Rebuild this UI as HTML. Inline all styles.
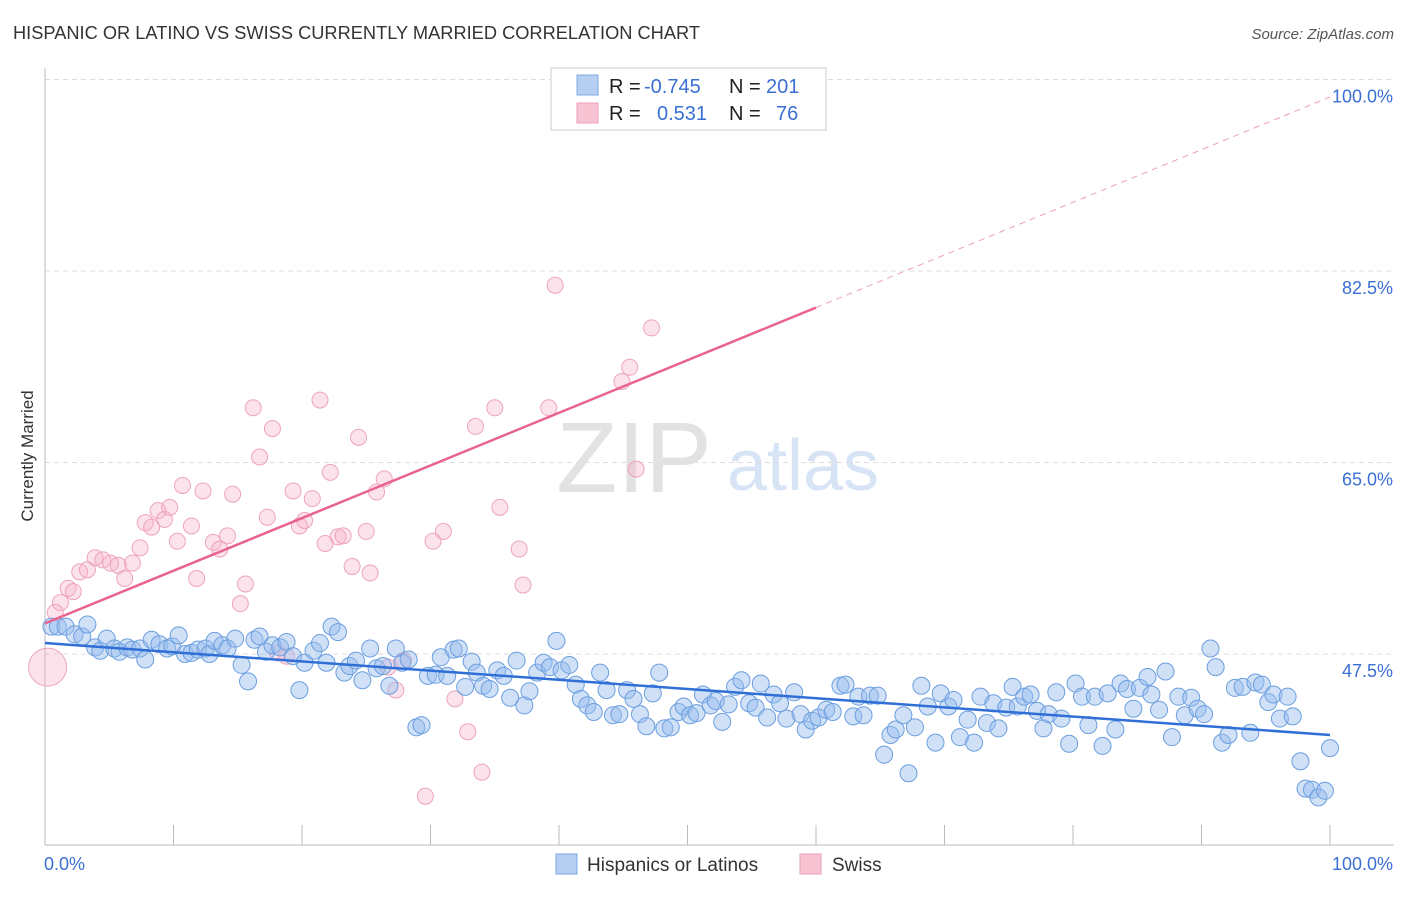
<!DOCTYPE html>
<html><head><meta charset="utf-8"><style>
body{margin:0;background:#fff;font-family:"Liberation Sans",sans-serif}
svg text{font-family:"Liberation Sans",sans-serif}
</style></head><body>
<svg id="chart" width="1406" height="892" viewBox="0 0 1406 892">
<text x="13" y="39" font-size="18" fill="#333" textLength="687" lengthAdjust="spacingAndGlyphs">HISPANIC OR LATINO VS SWISS CURRENTLY MARRIED CORRELATION CHART</text>
<text x="1394" y="39" font-size="15" fill="#555" font-style="italic" text-anchor="end">Source: ZipAtlas.com</text>
<text x="33" y="456" font-size="17" fill="#333" text-anchor="middle" transform="rotate(-90 33 456)">Currently Married</text>
<g><text x="634" y="492" font-size="100" fill="#e2e2e2" text-anchor="middle" font-family="Liberation Serif,serif">ZIP</text><text x="803" y="490" font-size="72" fill="#d6e4f5" text-anchor="middle">atlas</text></g>
<g id="grid"></g><g id="axes"></g><g id="trends"></g><g id="pts"></g>
<g>
<rect x="551" y="68" width="275" height="62" fill="#fff" stroke="#ccc"/>
<rect x="577" y="75" width="21" height="20" fill="#b5cff2" stroke="#7ea8e0"/>
<rect x="577" y="103" width="21" height="20" fill="#f8c3d3" stroke="#eba0b8"/>
<text y="93" font-size="20" fill="#222"><tspan x="609">R =</tspan><tspan x="644" fill="#3b6fd4">-0.745</tspan><tspan x="729">N =</tspan><tspan x="766" fill="#3b6fd4">201</tspan></text>
<text y="120" font-size="20" fill="#222"><tspan x="609">R =</tspan><tspan fill="#3b6fd4" x="657">0.531</tspan><tspan x="729">N =</tspan><tspan fill="#3b6fd4" x="776">76</tspan></text>
</g>
<g>
<rect x="556" y="854" width="21" height="20" fill="#b5cff2" stroke="#7ea8e0"/>
<text x="587" y="871" font-size="19" fill="#333">Hispanics or Latinos</text>
<rect x="800" y="854" width="21" height="20" fill="#f8c3d3" stroke="#eba0b8"/>
<text x="832" y="871" font-size="19" fill="#333">Swiss</text>
</g>
</svg>
<script>
const yTicks=[47.5,65,82.5,100];
const yTickLabels=["47.5%","65.0%","82.5%","100.0%"];
const xTickLabels=["0.0%","100.0%"];
const blueX=[0.5,1.0,1.6,2.3,2.9,3.3,3.9,4.3,4.8,5.4,5.8,6.4,6.8,7.4,7.8,8.3,8.9,9.5,9.9,10.4,10.9,11.4,11.9,12.5,12.8,13.2,13.8,14.2,14.8,15.3,15.8,16.3,16.7,17.2,17.7,18.3,18.8,19.3,19.8,20.2,20.9,21.4,21.9,22.3,22.8,23.3,23.7,24.2,24.7,25.3,25.8,26.3,26.8,27.3,27.8,28.3,28.9,29.3,29.8,30.4,30.8,31.3,31.8,32.2,32.7,33.2,33.6,34.1,34.6,35.2,35.7,36.2,36.7,37.3,37.7,38.3,38.8,39.3,39.8,40.2,40.8,41.3,41.7,42.2,42.7,43.2,43.7,44.2,44.7,45.3,45.8,46.3,46.8,47.3,47.8,48.2,48.7,49.3,49.7,50.2,50.7,51.2,51.8,52.2,52.7,53.2,53.7,54.2,54.8,55.3,55.7,56.2,56.7,57.2,57.7,58.3,58.8,59.2,59.7,60.2,60.8,61.3,61.9,62.3,62.9,63.3,63.7,64.2,64.8,65.3,65.8,66.2,66.8,67.2,67.7,68.2,68.7,69.3,69.7,70.3,70.7,71.2,71.8,72.3,72.8,73.3,73.8,74.2,74.8,75.3,75.7,76.2,76.7,77.2,77.7,78.1,78.7,79.1,79.7,80.2,80.7,81.2,81.7,82.3,82.7,83.3,83.7,84.2,84.7,85.2,85.8,86.1,86.7,87.2,87.7,88.2,88.7,89.2,89.7,90.2,90.7,91.1,91.6,92.1,92.6,93.2,93.8,94.2,94.7,95.2,95.6,96.1,96.7,97.1,97.7,98.1,98.6,99.1,99.6,100.0];
const blueY=[50.0,50.0,50.0,49.3,49.1,50.2,48.1,47.8,48.9,48.0,47.7,48.1,47.9,48.0,47.0,48.8,48.4,48.0,48.2,49.2,47.5,47.6,47.9,48.0,47.5,48.7,48.3,48.0,48.9,46.5,45.0,48.8,49.1,47.7,48.3,48.1,48.6,47.3,44.2,46.7,47.8,48.5,46.7,50.0,49.5,45.8,46.4,46.9,45.1,48.0,46.2,46.4,44.6,48.0,46.7,47.0,40.8,41.0,45.5,45.6,47.2,45.5,47.9,48.0,44.5,46.8,45.8,44.6,44.3,46.0,45.5,43.5,46.9,42.8,44.1,45.8,46.7,46.3,48.7,46.0,46.5,44.7,43.4,42.8,42.2,45.8,44.2,41.9,42.0,44.2,43.4,42.0,40.9,43.9,45.8,40.7,40.8,42.2,42.7,41.9,42.1,43.8,42.8,43.2,41.3,42.9,44.5,45.1,43.0,42.6,44.8,41.7,43.8,43.0,41.6,44.0,42.0,40.6,41.4,41.7,42.4,42.2,44.6,44.7,41.8,43.6,41.9,43.7,43.7,38.3,40.1,40.6,41.9,36.6,40.8,44.6,42.7,39.4,43.9,42.7,43.3,39.9,41.5,39.4,43.6,41.2,43.0,40.7,42.6,44.5,42.7,43.6,43.8,42.3,40.7,42.0,44.0,41.6,39.3,44.8,43.6,41.0,43.6,39.1,43.9,40.6,44.8,44.3,42.5,44.4,45.4,43.8,42.4,45.9,39.9,43.6,41.9,43.5,42.5,42.0,48.0,46.3,39.4,40.1,44.4,44.5,40.3,44.9,44.7,43.1,43.8,41.6,43.6,41.8,37.7,35.2,35.1,34.4,35.0,38.9];
const pinkX=[0.8,1.2,1.8,2.2,2.7,3.3,3.9,4.5,5.1,5.7,6.2,6.8,7.4,7.8,8.3,8.8,9.3,9.7,10.3,10.7,11.4,11.8,12.3,13.1,13.6,14.2,14.6,15.2,15.6,16.2,16.7,17.3,17.7,18.1,18.8,19.3,19.8,20.2,20.8,21.4,21.8,22.2,22.8,23.2,23.9,24.4,25.0,25.3,25.8,26.4,26.7,27.3,27.9,29.6,30.2,31.0,31.9,32.9,33.5,34.0,35.0,35.4,36.9,37.2,39.2,39.7,43.3,44.9,45.5,46.0,47.2,54.5];
const pinkY=[51.3,52.2,53.5,53.2,55.0,55.2,56.3,56.1,55.8,55.6,54.4,55.8,57.2,59.5,59.1,60.6,59.8,60.9,57.8,62.9,59.2,54.4,62.4,57.7,57.1,58.3,62.1,52.1,53.9,70.0,65.5,60.0,68.1,47.6,47.3,62.4,59.2,59.7,61.7,70.7,57.6,64.1,58.2,58.3,55.5,67.3,58.7,54.9,62.3,63.5,46.3,44.2,46.9,34.5,57.8,58.7,43.4,40.4,68.3,36.7,70.0,60.9,57.1,53.8,70.0,81.2,99.8,72.4,73.7,64.4,77.3,99.8];
const bigPinkX=[0.2], bigPinkY=[46.3];
const trendBlue=[48.5,40.1];
const trendPink=[50.3,98.4];
const pinkSolidEnd=60;

const L=45,R=1330,T=80,B=845;
const sx=v=>L+(v/100)*(R-L);
const sy=v=>654-(v-47.5)*(191.5/17.5);
const NS="http://www.w3.org/2000/svg";
function mk(tag,attrs,parent){const e=document.createElementNS(NS,tag);for(const k in attrs)e.setAttribute(k,attrs[k]);parent.appendChild(e);return e;}
const grid=document.getElementById('grid'),axes=document.getElementById('axes'),trends=document.getElementById('trends'),pts=document.getElementById('pts');
yTicks.forEach((t,i)=>{
  const l=mk('line',{x1:L,x2:1394,y1:sy(t),y2:sy(t),stroke:'#ddd','stroke-dasharray':'5,4'},grid);
  
  
  const tx=mk('text',{x:1393,y:sy(t)+23,'font-size':18,fill:'#3b6fd4','text-anchor':'end'},axes);
  tx.textContent=yTickLabels[i];
  
  
});
const ax=mk('line',{x1:L,x2:1394,y1:B,y2:B,stroke:'#bbb'},axes);


const ay=mk('line',{x1:L,x2:L,y1:68,y2:B,stroke:'#bbb'},axes);


for(let i=0;i<=10;i++){
  const tk=mk('line',{x1:sx(i*10),x2:sx(i*10),y1:B,y2:B-20,stroke:'#bbb'},axes);
  
  
}
[[0,'start',44],[100,'end',1393]].forEach((d,i)=>{
  const tx=mk('text',{x:d[2],y:870,'font-size':18,fill:'#3b6fd4','text-anchor':d[1]},axes);
  tx.textContent=xTickLabels[i];
  
  
});
pinkX.forEach((x,i)=>{
  const c=mk('circle',{cx:sx(x),cy:sy(pinkY[i]),r:8,fill:'rgba(246,175,198,0.35)',stroke:'#eea3bb','stroke-width':1},pts);
  
  
});
bigPinkX.forEach((x,i)=>{
  const c=mk('circle',{cx:sx(x),cy:sy(bigPinkY[i]),r:19,fill:'rgba(246,175,198,0.35)',stroke:'#eea3bb','stroke-width':1},pts);
  
  
});
blueX.forEach((x,i)=>{
  const c=mk('circle',{cx:sx(x),cy:sy(blueY[i]),r:8.5,fill:'rgba(150,188,238,0.45)',stroke:'#6b9ee0','stroke-width':1},pts);
  
  
});
const py=x=>trendPink[0]+(trendPink[1]-trendPink[0])*x/100;
const t1=mk('line',{x1:sx(0),y1:sy(trendBlue[0]),x2:sx(100),y2:sy(trendBlue[1]),stroke:'#2f6fd6','stroke-width':2.5},pts);


const t2=mk('line',{x1:sx(0),y1:sy(py(0)),x2:sx(pinkSolidEnd),y2:sy(py(pinkSolidEnd)),stroke:'#e8648f','stroke-width':2.5},pts);


const t3=mk('line',{x1:sx(pinkSolidEnd),y1:sy(py(pinkSolidEnd)),x2:sx(100),y2:sy(py(100)),stroke:'#eaa0b8','stroke-width':1,'stroke-dasharray':'6,5'},pts);


</script>
</body></html>
